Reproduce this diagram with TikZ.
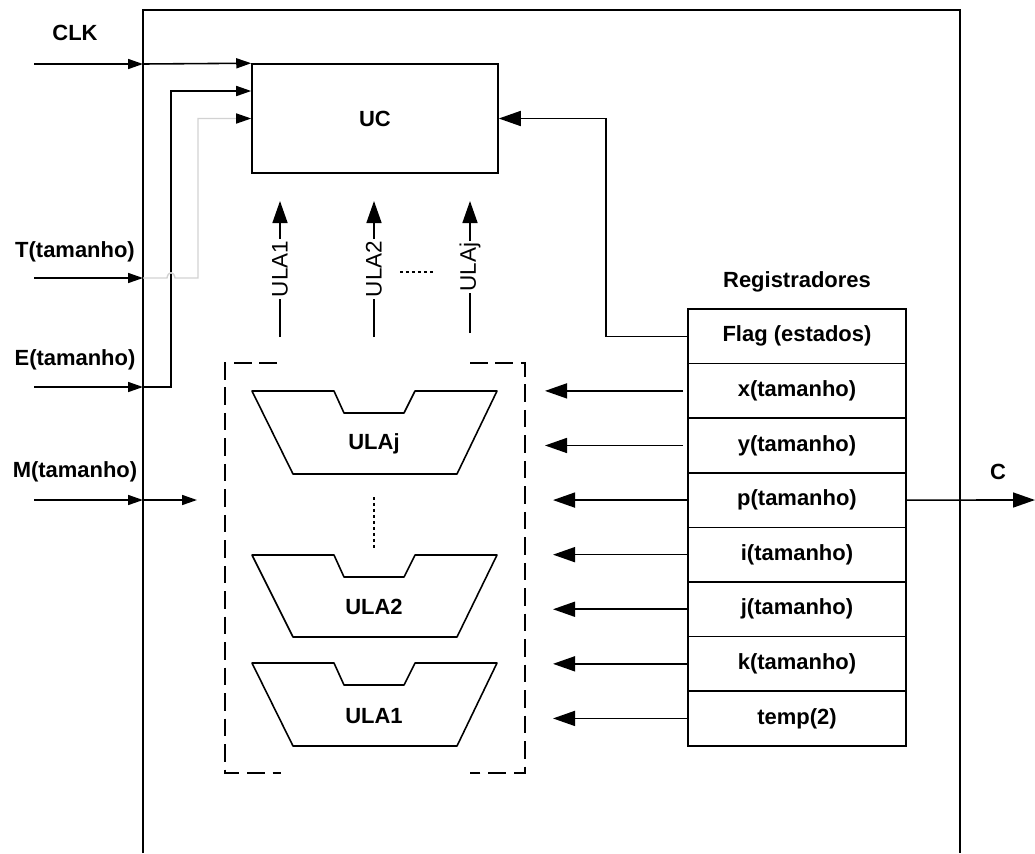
\documentclass[tikz,border=0pt]{standalone}
\usepackage{fontspec}
\setmainfont{Liberation Sans}
\usetikzlibrary{arrows.meta,positioning}

\tikzset{
  arr/.style={-{Triangle[length=3mm,width=2mm]}, line width=0.9pt},
  barr/.style={-{Triangle[length=4.4mm,width=3mm]}, line width=0.9pt},
  lbl/.style={font=\fontsize{12.5}{15}\selectfont\bfseries},
  ulalbl/.style={font=\fontsize{12.8}{15}\selectfont, rotate=90, fill=white, inner sep=1pt},
  reg/.style={draw, line width=0.9pt, outer sep=0pt, inner sep=0pt,
    minimum width=4.36cm, minimum height=1.092cm, lbl},
  ulabox/.style={line width=0.9pt, line join=round},
  frame/.style={line width=0.9pt, dash pattern=on 10pt off 4.5pt},
  dots/.style={line width=0.8pt, dash pattern=on 1.6pt off 1.8pt},
}

\begin{document}
\begin{tikzpicture}[x=0.02cm, y=-0.02cm]
\useasboundingbox (0,0) rectangle (1035,853);

% outer box
\draw[line width=0.9pt] (143,853) -- (143,10) -- (960,10) -- (960,853);

% control unit
\node[draw, line width=0.9pt, minimum width=4.92cm, minimum height=2.18cm, lbl] (uc) at (375,118.5) {UC};

% inputs
\node[lbl] (clk) at (75,33) {CLK};
\node[lbl] (tl) at (75,252) {T(tamanho)};
\node[lbl] (el) at (75,360) {E(tamanho)};
\node[lbl] (ml) at (75,472) {M(tamanho)};
\coordinate (clkin) at (34,64);
\coordinate (clkb) at (143,64);
\coordinate (tin) at (34,278);
\coordinate (tb) at (143,278);
\coordinate (ein) at (34,387);
\coordinate (eb) at (143,387);
\coordinate (min) at (34,500);
\coordinate (mb) at (143,500);
\coordinate (mend) at (197,500);

\draw[arr] (clkin) -- (clkb);
\draw[arr] (clkb) -- (uc.north west);
\draw[arr] (ein) -- (eb);
\draw[arr] (eb) -- (171,387) -- (171,91) -- ([yshift=0.55cm]uc.west);
\draw[arr] (tin) -- (tb);
\draw[-{Triangle[length=3mm,width=2mm,color=black]}, line width=0.8pt, draw=gray!35]
  (tb) -- (167,278) .. controls (168,271) and (174,271) .. (175,278) -- (198,278) -- (198,118.5) -- (uc.west);
\draw[arr] (min) -- (mb);
\draw[arr] (mb) -- (mend);

% ULA outputs to UC
\coordinate (a1b) at (280,337);
\coordinate (a1t) at (280,201);
\coordinate (a2b) at (374,337);
\coordinate (a2t) at (374,201);
\coordinate (ajb) at (470,333);
\coordinate (ajt) at (470,201);
\draw[barr] (a1b) -- node[ulalbl] (l1) {ULA1} (a1t);
\draw[barr] (a2b) -- node[ulalbl] (l2) {ULA2} (a2t);
\draw[barr] (ajb) -- node[ulalbl] (lj) {ULAj} (ajt);
\draw[dots] (400,272) -- (435,272);

% ULA group
\draw[frame] (277,363) -- (225,363) -- (225,773) -- (281,773);
\draw[frame] (470,363) -- (525,363) -- (525,773) -- (470,773);
\draw[ulabox] (252,391) -- (334,391) -- (344,413) -- (404,413) -- (415,391) -- (497,391) -- (457,474) -- (293,474) -- cycle;
\draw[ulabox] (252,555) -- (334,555) -- (344,577) -- (404,577) -- (415,555) -- (497,555) -- (457,637) -- (293,637) -- cycle;
\draw[ulabox] (252,663) -- (334,663) -- (344,685) -- (404,685) -- (415,663) -- (497,663) -- (457,746) -- (293,746) -- cycle;
\node[lbl] (uj) at (374,444) {ULAj};
\node[lbl] (u2) at (374,607) {ULA2};
\node[lbl] (u1) at (374,716) {ULA1};
\draw[dots] (374,497) -- (374,550);

% registers
\node[lbl] (regs) at (797,282) {Registradores};
\node[reg] (rflag) at (797,336.3) {Flag (estados)};
\node[reg, below=0pt of rflag] (rx) {x(tamanho)};
\node[reg, below=0pt of rx] (ry) {y(tamanho)};
\node[reg, below=0pt of ry] (rp) {p(tamanho)};
\node[reg, below=0pt of rp] (ri) {i(tamanho)};
\node[reg, below=0pt of ri] (rj) {j(tamanho)};
\node[reg, below=0pt of rj] (rk) {k(tamanho)};
\node[reg, below=0pt of rk] (rtemp) {temp(2)};

\coordinate (xtip) at (545,0);
\coordinate (rtip) at (553,0);
\draw[barr] ([xshift=-0.1cm]rx.west) -- (rx.west -| xtip);
\draw[barr] ([xshift=-0.1cm]ry.west) -- (ry.west -| xtip);
\draw[barr] (rp.west) -- (rp.west -| rtip);
\draw[barr] (ri.west) -- (ri.west -| rtip);
\draw[barr] (rj.west) -- (rj.west -| rtip);
\draw[barr] (rk.west) -- (rk.west -| rtip);
\draw[barr] (rtemp.west) -- (rtemp.west -| rtip);

% flags to UC
\draw[barr] (rflag.west) -- ++(-82,0) |- (uc.east);

% output
\node[lbl] (cl) at (998,472) {C};
\coordinate (cout) at (1035,500);
\draw[barr] (rp.east) -- (cout);
\end{tikzpicture}
\end{document}
